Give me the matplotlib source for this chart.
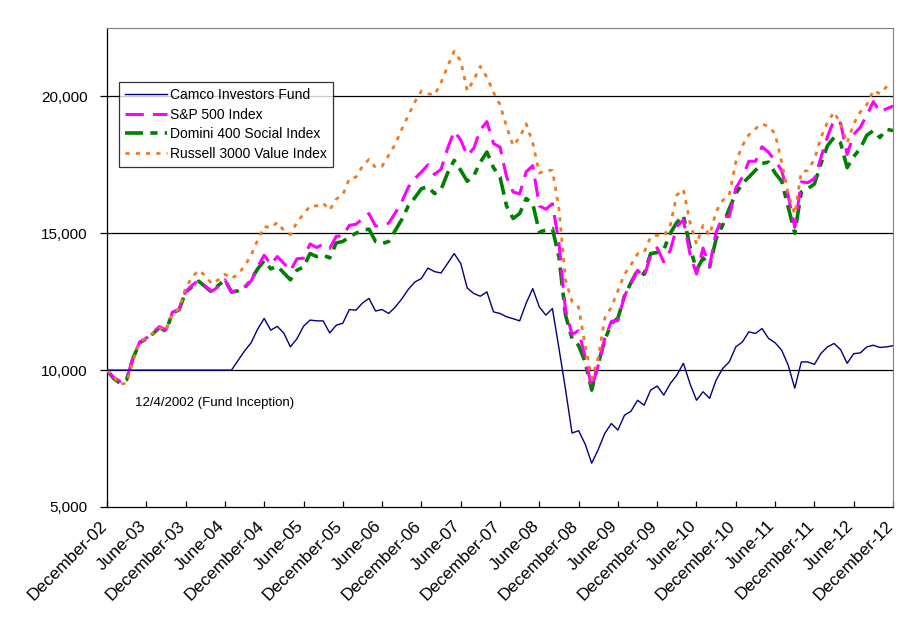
import numpy as np
import matplotlib.pyplot as plt
import matplotlib.transforms as mtransforms

plt.rcParams['font.family'] = ['Liberation Sans', 'DejaVu Sans']

# month labels, every 6 months, December-02 .. December-12 (121 monthly points)
tick_labels = []
for yr in range(2, 13):
    tick_labels.append('December-%02d' % yr)
    if yr < 12:
        tick_labels.append('June-%02d' % (yr + 1))

# growth of $10,000, monthly, Dec 2002 .. Dec 2012
camco = [
    10000, 10000, 10000, 10000, 10000, 10000, 10000, 10000, 10000, 10000,
    10000, 10000, 10000, 10000, 10000, 10000, 10000, 10000, 10000, 10000,
    10350, 10700, 11000, 11500, 11890, 11460, 11600, 11350, 10850, 11150,
    11600, 11830, 11800, 11800, 11360, 11640, 11715, 12215, 12190, 12450,
    12620, 12160, 12215, 12070, 12300, 12600, 12950, 13220, 13350, 13730,
    13600, 13550, 13900, 14260, 13900, 13000, 12800, 12700, 12860, 12130,
    12070, 11950, 11880, 11800, 12450, 12980, 12310, 12010, 12250, 10800,
    9300, 7700, 7790, 7300, 6600, 7100, 7690, 8050, 7810, 8350,
    8500, 8900, 8720, 9270, 9420, 9090, 9510, 9820, 10250, 9510,
    8900, 9210, 8970, 9640, 10060, 10300, 10850, 11030, 11400, 11340,
    11520, 11160, 11000, 10730, 10180, 9340, 10300, 10300, 10210, 10610,
    10850, 10975, 10750, 10250, 10600, 10630, 10850, 10910, 10830, 10850,
    10890,
]

sp500 = [
    10000, 9740, 9590, 9690, 10480, 11030, 11170, 11370, 11590, 11470,
    12120, 12220, 12870, 13100, 13280, 13080, 12880, 13050, 13300, 12860,
    12910, 13050, 13250, 13780, 14200, 13860, 14150, 13900, 13630, 14070,
    14090, 14610, 14480, 14600, 14450, 14890, 14900, 15290, 15330, 15520,
    15720, 15260, 15280, 15370, 15740, 16150, 16680, 17000, 17240, 17500,
    17150, 17340, 18100, 18730, 18410, 17840, 18110, 18780, 19080, 18280,
    18150, 17060, 16510, 16440, 17250, 17470, 16000, 15880, 16080, 14650,
    12190, 11310, 11440, 10480, 9360, 10180, 11160, 11780, 11810, 12710,
    13160, 13650, 13400, 14210, 14470, 13950, 14380, 15250, 15490, 14250,
    13510, 14460, 13810, 15040, 15610, 15610, 16650, 17050, 17630, 17630,
    18160, 17960, 17650, 17300, 16370, 15220, 16880, 16850, 17000, 17770,
    18530, 19140, 19020, 17880, 18610, 18870, 19310, 19810, 19430, 19550,
    19650,
]

domini = [
    10000, 9700, 9520, 9650, 10450, 11000, 11150, 11330, 11550, 11430,
    12100, 12200, 12850, 13050, 13250, 13050, 12850, 13100, 13300, 12850,
    12900, 13000, 13300, 13700, 14000, 13700, 13800, 13550, 13300, 13650,
    13770, 14260, 14150, 14200, 14100, 14650, 14700, 14870, 15000, 15110,
    15150, 14700, 14625, 14700, 15100, 15500, 16000, 16300, 16630, 16700,
    16450, 16600, 17200, 17665, 17300, 16900, 17100, 17600, 17970, 17400,
    17055, 16000, 15540, 15720, 16270, 16080, 15050, 15110, 15170, 14135,
    12010, 11150, 10900, 10300, 9270, 10245, 11100, 11700, 11900, 12700,
    13200, 13650, 13500, 14260, 14300, 14400, 15000, 15400, 15650, 14500,
    13650, 14100, 13770, 14800, 15300, 15900, 16450, 16815, 17055, 17300,
    17550, 17600, 17200, 16900, 15960, 15000, 16510, 16630, 16800, 17550,
    18200, 18500, 18300, 17400, 17800, 18100, 18580, 18750, 18500, 18800,
    18750,
]

russell = [
    10000, 9760, 9480, 9530, 10360, 11030, 11180, 11350, 11550, 11440,
    12080, 12230, 13000, 13400, 13650, 13450, 13150, 13300, 13500, 13350,
    13500, 13800, 14200, 14750, 15250, 15200, 15400, 15100, 14950, 15400,
    15700, 16000, 16000, 16100, 15850, 16250, 16400, 17000, 17050, 17450,
    17700, 17400, 17450, 17850, 18250, 18800, 19300, 19800, 20200, 20100,
    20050, 20500, 21100, 21650, 21300, 20200, 20600, 21100, 20700, 20150,
    19700, 18900, 18200, 18500, 19000, 18300, 17200, 17300, 17300, 15900,
    13300, 12500, 12300, 10900, 9700, 10450, 11900, 12300, 12900, 13500,
    13850, 14250, 14300, 14870, 14930, 14900, 15300, 16400, 16600, 15400,
    14600, 15290, 14930, 15800, 16200, 16400, 17600, 18200, 18600, 18820,
    19000, 18900, 18640, 17600, 16450, 15700, 17240, 17300, 17700, 18500,
    19060, 19430, 19000, 18300, 19000, 19430, 19700, 20220, 20100, 20350,
    20450,
]

months = np.arange(len(camco))

fig = plt.figure(figsize=(9.08, 6.25), dpi=100)
ax = fig.add_axes([107 / 908, 1 - 507 / 625, 786 / 908, 479 / 625])

for yv in [10000, 15000, 20000]:
    ax.axhline(yv, color='black', lw=0.9, zorder=1)

ax.plot(months, camco, color='#000080', lw=1.0, label='Camco Investors Fund', zorder=5)
ax.plot(months, sp500, color='#FF00FF', lw=2.2, dashes=(6, 3),
        label='S&P 500 Index', zorder=3)
ax.plot(months, domini, color='#007F00', lw=2.6, dashes=(5, 2, 2, 2),
        label='Domini 400 Social Index', zorder=2)
ax.plot(months, russell, color='#F07A22', lw=2.0, dashes=(1.5, 2.2),
        label='Russell 3000 Value Index', zorder=4)

ax.set_xlim(0, 120)
ax.set_ylim(5000, 22500)
ax.set_yticks([5000, 10000, 15000, 20000])
ax.set_yticklabels(['5,000', '10,000', '15,000', '20,000'], fontsize=11)
ax.set_xticks(np.arange(0, 121, 6))
ax.set_xticklabels(tick_labels, fontsize=12.5, rotation=45, ha='right',
                   va='top', rotation_mode='anchor')
ax.tick_params(axis='y', direction='out', length=5, width=0.9, pad=9)
ax.tick_params(axis='x', direction='in', length=4, width=0.9, pad=8)

# nudge the rotated month labels a little to the left, like the original
shift = mtransforms.ScaledTranslation(-0.08, 0, fig.dpi_scale_trans)
for lab in ax.get_xticklabels():
    lab.set_transform(lab.get_transform() + shift)

ax.spines['left'].set_linewidth(0.9)
ax.spines['bottom'].set_linewidth(0.9)
ax.spines['top'].set_color('#808080')
ax.spines['right'].set_color('#808080')

ax.text(4.3, 8800, '12/4/2002 (Fund Inception)', fontsize=9.5, va='center')

leg = ax.legend(loc='upper left', bbox_to_anchor=(119 / 908, 1 - 82 / 625),
                bbox_transform=fig.transFigure, fontsize=10, frameon=True,
                fancybox=False, borderaxespad=0, handlelength=3.0,
                handletextpad=0.2, labelspacing=0.4, borderpad=0.45)
leg.get_frame().set_edgecolor('black')
leg.get_frame().set_linewidth(0.9)

fig.savefig('out.png', dpi=100)
